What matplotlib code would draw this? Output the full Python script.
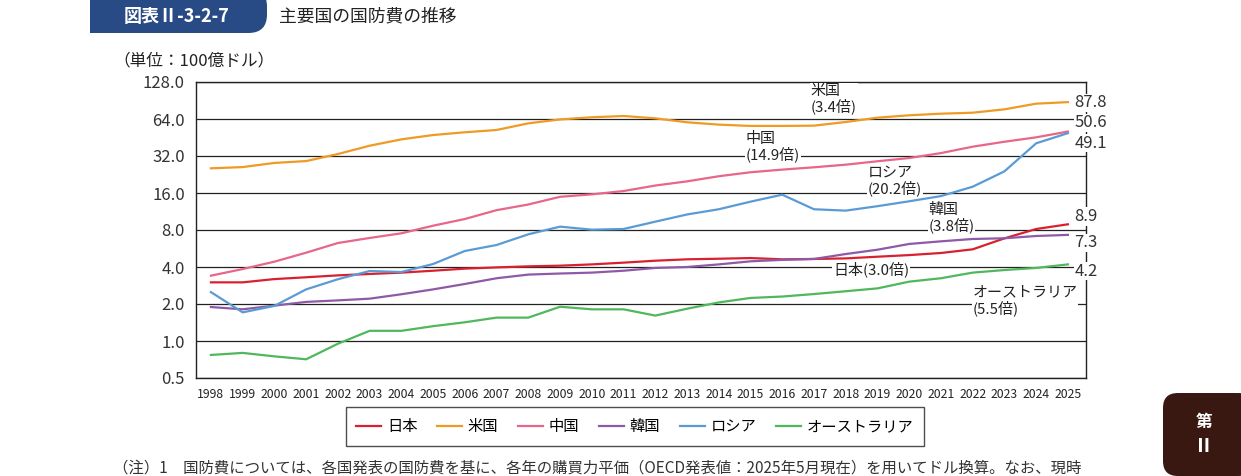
import matplotlib.pyplot as plt
import matplotlib.ticker as mtick
from matplotlib.patches import FancyBboxPatch, Rectangle

plt.rcParams['font.family'] = ['Noto Sans CJK JP', 'DejaVu Sans']

years = list(range(1998, 2026))

# 単位: 100億ドル
japan = [3.0, 3.0, 3.19, 3.3, 3.42, 3.51, 3.6, 3.73, 3.88, 3.97, 4.05, 4.1, 4.2, 4.34,
         4.5, 4.62, 4.67, 4.73, 4.62, 4.65, 4.7, 4.85, 5.0, 5.2, 5.57, 6.84, 8.15, 8.9]
usa = [25.4, 26.0, 28.1, 29.1, 33.2, 38.8, 43.7, 47.4, 49.9, 52.1, 59.0, 63.5, 66.1, 67.7,
       64.8, 60.2, 57.6, 56.2, 56.2, 56.5, 60.5, 65.6, 68.6, 70.7, 72.0, 76.7, 85.3, 87.8]
china = [3.4, 3.85, 4.42, 5.23, 6.27, 6.89, 7.52, 8.67, 9.83, 11.6, 12.9, 14.9, 15.6, 16.6,
         18.4, 19.9, 21.9, 23.6, 24.8, 25.9, 27.2, 29.0, 30.8, 33.8, 38.1, 41.8, 45.4, 50.6]
korea = [1.89, 1.81, 1.94, 2.08, 2.14, 2.21, 2.4, 2.63, 2.91, 3.24, 3.47, 3.54, 3.6, 3.73,
         3.93, 4.0, 4.2, 4.45, 4.57, 4.65, 5.1, 5.53, 6.16, 6.47, 6.76, 6.85, 7.15, 7.3]
russia = [2.5, 1.71, 1.93, 2.63, 3.18, 3.71, 3.64, 4.23, 5.4, 6.04, 7.38, 8.52, 8.05, 8.15,
          9.35, 10.7, 11.8, 13.6, 15.5, 11.8, 11.5, 12.5, 13.7, 15.1, 18.0, 24.0, 40.6, 49.1]
australia = [0.77, 0.8, 0.75, 0.71, 0.95, 1.21, 1.21, 1.32, 1.42, 1.55, 1.55, 1.9, 1.81, 1.81,
             1.61, 1.83, 2.06, 2.24, 2.3, 2.41, 2.54, 2.68, 3.04, 3.24, 3.6, 3.78, 3.93, 4.2]

names = ['日本', '米国', '中国', '韓国', 'ロシア', 'オーストラリア']
series = [japan, usa, china, korea, russia, australia]
colors = ['#d9202f', '#f09a25', '#e8668a', '#8e5aa8', '#5b9bd5', '#4fb85c']
yticks = [0.5, 1, 2, 4, 8, 16, 32, 64, 128]

fig = plt.figure(figsize=(12.41, 4.76), dpi=100)
ax = fig.add_axes([196 / 1241, 1 - 378 / 476, 890 / 1241, 296 / 476])

for name, vals, c in zip(names, series, colors):
    ax.plot(years, vals, color=c, lw=1.6, label=name, zorder=6)

ax.set_yscale('log', base=2)
ax.set_ylim(0.5, 128)
ax.set_xlim(1997.53, 2025.57)
ax.set_yticks(yticks)
ax.yaxis.set_major_formatter(mtick.FuncFormatter(lambda v, p: f'{v:.1f}'))
ax.yaxis.set_minor_locator(mtick.NullLocator())
ax.set_xticks(years)
ax.tick_params(axis='x', length=0, labelsize=8.8, pad=7, colors='#222222')
ax.tick_params(axis='y', length=0, labelsize=12, pad=8, colors='#333333')
ax.grid(axis='y', color='#222222', lw=0.9, zorder=1)
ax.set_axisbelow(True)
for s in ax.spines.values():
    s.set_color('#222222')
    s.set_linewidth(1.0)
    s.set_zorder(2)

# 倍率の注記
box = dict(facecolor='white', edgecolor='none', pad=0.5)
notes = [(2016.9, 93, '米国\n(3.4倍)'), (2014.85, 38, '中国\n(14.9倍)'),
         (2018.7, 20.2, 'ロシア\n(20.2倍)'), (2020.6, 10.0, '韓国\n(3.8倍)'),
         (2017.6, 3.85, '日本(3.0倍)'), (2022.0, 2.12, 'オーストラリア\n(5.5倍)')]
for x, y, t in notes:
    ax.text(x, y, t, fontsize=10.8, color='#222222', va='center', ha='left',
            linespacing=1.05, bbox=box, zorder=3)

# 2025年の値
ends = [(87.8, 86.8), (50.6, 59.7), (49.1, 40.6), (8.9, 10.3), (7.3, 6.3), (4.2, 3.7)]
for v, ypos in ends:
    ax.text(2025.2, ypos, f'{v}', fontsize=12, color='#333333', va='center',
            ha='left', bbox=box, clip_on=False, zorder=3)

# 見出し
fig.patches.append(FancyBboxPatch((90 / 1241, 1 - 33 / 476), 177 / 1241, 45 / 476,
                                  boxstyle='round,pad=0,rounding_size=0.015',
                                  transform=fig.transFigure, facecolor='#284b86',
                                  edgecolor='none', mutation_aspect=2.6))
fig.patches.append(Rectangle((90 / 1241, 1 - 33 / 476), 20 / 1241, 45 / 476,
                             transform=fig.transFigure, facecolor='#284b86',
                             edgecolor='none'))
fig.text(177 / 1241, 1 - 16 / 476, '図表Ⅱ-3-2-7', color='white', fontsize=13,
         fontweight='bold', ha='center', va='center')
fig.text(279 / 1241, 1 - 16 / 476, '主要国の国防費の推移', color='#222222',
         fontsize=12.8, ha='left', va='center')
fig.text(113 / 1241, 1 - 61 / 476, '（単位：100億ドル）', color='#222222',
         fontsize=12, ha='left', va='center')

leg = fig.legend(loc='center', bbox_to_anchor=(635 / 1241, 1 - 426.5 / 476), ncol=6,
                 fontsize=11, frameon=True, fancybox=False, handlelength=1.6,
                 columnspacing=1.3, handletextpad=0.4, borderpad=0.7)
leg.get_frame().set_edgecolor('#222222')
leg.get_frame().set_linewidth(1.0)

fig.text(113 / 1241, 1 - 468 / 476,
         '（注）1　国防費については、各国発表の国防費を基に、各年の購買力平価（OECD発表値：2025年5月現在）を用いてドル換算。なお、現時',
         color='#333333', fontsize=11.1, ha='left', va='center')

# 右下のタブ
fig.patches.append(FancyBboxPatch((1163 / 1241, 1 - 476 / 476), 90 / 1241, 83 / 476,
                                  boxstyle='round,pad=0,rounding_size=0.012',
                                  transform=fig.transFigure, facecolor='#3a1812',
                                  edgecolor='none', mutation_aspect=2.6))
fig.text(1204 / 1241, 1 - 422 / 476, '第', color='white', fontsize=12,
         fontweight='bold', ha='center', va='center')
fig.text(1204 / 1241, 1 - 446 / 476, 'Ⅱ', color='white', fontsize=14,
         fontweight='bold', ha='center', va='center')

fig.savefig('out.png', dpi=100)
